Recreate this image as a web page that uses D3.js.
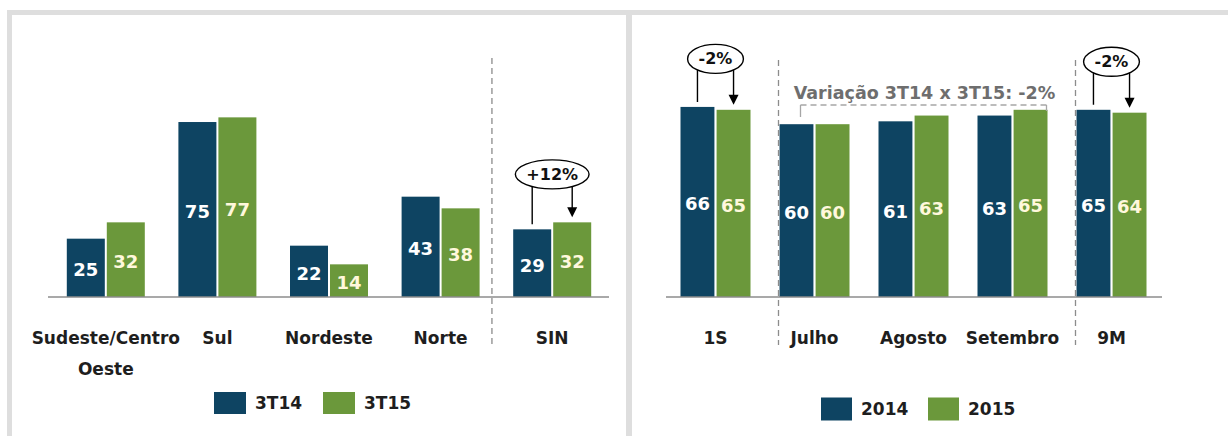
<!DOCTYPE html>
<html><head><meta charset="utf-8">
<script src="https://cdnjs.cloudflare.com/ajax/libs/d3/7.8.5/d3.min.js"></script>
<style>
html,body{margin:0;padding:0;background:#fff;}
svg{display:block;font-family:"DejaVu Sans",sans-serif;font-weight:bold;}
</style></head>
<body>
<svg id="c" width="1228" height="436"></svg>
<script>
// ---- data ----
const leftCategories = ["Sudeste/Centro Oeste", "Sul", "Nordeste", "Norte", "SIN"];
const leftSeriesNames = ["3T14", "3T15"];
const left3T14 = [25, 75, 22, 43, 29];
const left3T15 = [32, 77, 14, 38, 32];
const leftAnnotation = "+12%";

const rightCategories = ["1S", "Julho", "Agosto", "Setembro", "9M"];
const rightSeriesNames = ["2014", "2015"];
const right2014 = [66, 60, 61, 63, 65];
const right2015 = [65, 60, 63, 65, 64];
const rightAnnotation = "-2%";
const variationText = "Variação 3T14 x 3T15: -2%";

const colors = ["#0e4462", "#6b983b"];
const labelColors = ["#ffffff", "#fff8dc"];

const svg = d3.select("#c");

// frame
const frame = svg.append("g").attr("fill", "#dedede");
frame.append("rect").attr("x", 7).attr("y", 10).attr("width", 1221).attr("height", 5);
frame.append("rect").attr("x", 7).attr("y", 10).attr("width", 5).attr("height", 426);
frame.append("rect").attr("x", 626).attr("y", 10).attr("width", 6).attr("height", 426);

function panel(cfg) {
  const g = svg.append("g");
  const x = d3.scalePoint().domain(cfg.categories).range(cfg.xRange).padding(0.5);
  const sub = d3.scaleBand().domain(cfg.seriesNames).range([-cfg.half, cfg.half]).paddingInner(cfg.inner);
  const y = d3.scaleLinear().domain([0, 100]).range([cfg.base, cfg.base - 100 * cfg.ppu]);
  const rows = cfg.categories.map((c, i) => ({c, vals: cfg.series.map((s, j) => ({name: cfg.seriesNames[j], v: s[i], j}))}));

  // bars
  const grp = g.selectAll("g.cat").data(rows).join("g").attr("transform", d => `translate(${x(d.c)},0)`);
  grp.selectAll("rect").data(d => d.vals).join("rect")
    .attr("x", d => sub(d.name)).attr("width", sub.bandwidth())
    .attr("y", d => y(d.v)).attr("height", d => y(0) - y(d.v))
    .attr("fill", d => colors[d.j]);
  grp.selectAll("text").data(d => d.vals).join("text")
    .attr("x", d => sub(d.name) + sub.bandwidth() / 2)
    .attr("y", d => (y(d.v) + y(0)) / 2 + 2)
    .attr("text-anchor", "middle").attr("dominant-baseline", "central")
    .attr("font-size", cfg.valueSize).attr("fill", d => labelColors[d.j])
    .text(d => d.v);

  // axis line
  const ax = d3.axisBottom(x).tickSize(0).tickFormat("");
  const axg = g.append("g").attr("transform", `translate(0,${y(0)})`).call(ax);
  axg.select(".domain").attr("stroke", "#8c8c8c").attr("stroke-width", 1.6)
     .attr("d", `M${cfg.axisRange[0]},0H${cfg.axisRange[1]}`);

  // category labels
  g.selectAll("text.cl").data(cfg.categories).join("text").attr("class", "cl")
    .attr("x", d => x(d)).attr("y", 344).attr("text-anchor", "middle")
    .attr("font-size", 17).attr("fill", "#1e1e1e")
    .each(function(d) {
      const parts = cfg.wrap[d] || [d];
      d3.select(this).selectAll("tspan").data(parts).join("tspan")
        .attr("x", x(d)).attr("dy", (p, i) => i === 0 ? 0 : 31).text(p => p);
    });

  // legend
  const lg = g.append("g").attr("transform", `translate(${cfg.legend.x},${cfg.legend.y})`);
  cfg.seriesNames.forEach((n, i) => {
    lg.append("rect").attr("x", i * cfg.legend.step).attr("y", -cfg.legend.h / 2)
      .attr("width", cfg.legend.w).attr("height", cfg.legend.h).attr("fill", colors[i]);
    lg.append("text").attr("x", i * cfg.legend.step + cfg.legend.w + 9).attr("y", 0)
      .attr("dominant-baseline", "central").attr("font-size", 17).attr("fill", "#1e1e1e").text(n);
  });

  return {g, x, sub, y};
}

function annotate(p, cat, idx, series, label) {
  const a = p.x(cat) + p.sub(p.sub.domain()[0]) + p.sub.bandwidth() / 2;
  const b = p.x(cat) + p.sub(p.sub.domain()[1]) + p.sub.bandwidth() / 2;
  const v0 = series[0][idx], v1 = series[1][idx];
  const cy = p.y(Math.max(v0, v1)) - 48;
  const g = p.g.append("g");
  g.append("path").attr("fill", "none").attr("stroke", "#000").attr("stroke-width", 1.4)
    .attr("d", `M${a},${p.y(v0) - 5}V${cy}H${b}V${p.y(v1) - 14}`);
  g.append("path").attr("fill", "#000")
    .attr("d", `M${b - 5},${p.y(v1) - 15}L${b + 5},${p.y(v1) - 15}L${b},${p.y(v1) - 5}Z`);
  const t = g.append("text").attr("x", (a + b) / 2).attr("y", cy).attr("text-anchor", "middle")
    .attr("dominant-baseline", "central").attr("font-size", 16).attr("fill", "#111").text(label);
  const w = t.node().getComputedTextLength();
  g.insert("ellipse", "text").attr("cx", (a + b) / 2).attr("cy", cy).attr("rx", w / 2 + 11).attr("ry", 14.5)
    .attr("fill", "#fff").attr("stroke", "#000").attr("stroke-width", 1.4);
}

// left panel
const L = panel({
  categories: leftCategories, seriesNames: leftSeriesNames, series: [left3T14, left3T15],
  xRange: [50, 608], half: 39, inner: 0.05, base: 297, ppu: 2.333, valueSize: 18,
  axisRange: [48, 609],
  wrap: {"Sudeste/Centro Oeste": ["Sudeste/Centro", "Oeste"]},
  legend: {x: 214, y: 403, w: 32, h: 22, step: 109}
});
// left divider
{
  const xd = L.x("Norte") + (L.x("SIN") - L.x("Norte")) * 0.46;
  L.g.append("line").attr("x1", xd).attr("x2", xd).attr("y1", 58).attr("y2", 345)
    .attr("stroke", "#8c8c8c").attr("stroke-width", 1.3).attr("stroke-dasharray", "6,4");
}
annotate(L, "SIN", 4, [left3T14, left3T15], leftAnnotation);

// right panel
const R = panel({
  categories: rightCategories, seriesNames: rightSeriesNames, series: [right2014, right2015],
  xRange: [666, 1161], half: 35, inner: 0.06, base: 297, ppu: 2.88, valueSize: 18,
  axisRange: [666, 1162],
  wrap: {},
  legend: {x: 821, y: 409, w: 31, h: 23, step: 107}
});
// right dividers
["Julho", "9M"].forEach(c => {
  const xd = R.x(c) + R.sub(R.sub.domain()[0]) - 1;
  R.g.append("line").attr("x1", xd).attr("x2", xd).attr("y1", 60).attr("y2", 345)
    .attr("stroke", "#8c8c8c").attr("stroke-width", 1.3).attr("stroke-dasharray", "6,4");
});
annotate(R, "1S", 0, [right2014, right2015], rightAnnotation);
annotate(R, "9M", 4, [right2014, right2015], rightAnnotation);

// variation bracket
{
  const x0 = R.x("Julho") + R.sub(R.sub.domain()[0]) + 21;
  const x1 = R.x("Setembro") + R.sub(R.sub.domain()[1]) + R.sub.bandwidth() - 1;
  const yb = 105;
  R.g.append("path").attr("fill", "none").attr("stroke", "#a6a6a6").attr("stroke-width", 1.3)
    .attr("stroke-dasharray", "6,4").attr("d", `M${x0},${yb}H${x1}`);
  R.g.append("path").attr("fill", "none").attr("stroke", "#a6a6a6").attr("stroke-width", 1.3)
    .attr("d", `M${x0},${yb}V${yb + 12}M${x1},${yb}V${yb + 6}`);
  R.g.append("text").attr("x", (x0 + x1) / 2 + 1).attr("y", 93).attr("text-anchor", "middle")
    .attr("dominant-baseline", "central").attr("font-size", 17.5).attr("fill", "#6e6e6e").text(variationText);
}
</script>
</body></html>
